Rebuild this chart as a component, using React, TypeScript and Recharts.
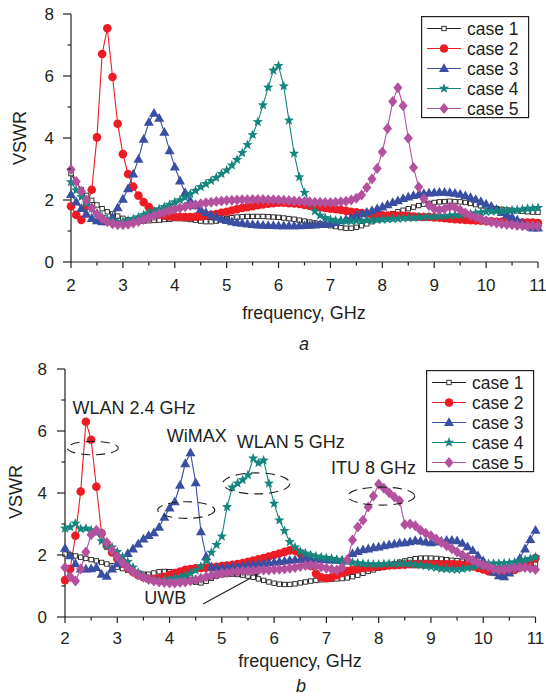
import React from "react";
import { LineChart, Line, XAxis, YAxis, ReferenceDot, ReferenceLine } from "recharts";

// frequency points (GHz), 0.1 GHz step
const FREQ = [
  2, 2.1, 2.2, 2.3, 2.4, 2.5, 2.6, 2.7, 2.8, 2.9,
  3, 3.1, 3.2, 3.3, 3.4, 3.5, 3.6, 3.7, 3.8, 3.9,
  4, 4.1, 4.2, 4.3, 4.4, 4.5, 4.6, 4.7, 4.8, 4.9,
  5, 5.1, 5.2, 5.3, 5.4, 5.5, 5.6, 5.7, 5.8, 5.9,
  6, 6.1, 6.2, 6.3, 6.4, 6.5, 6.6, 6.7, 6.8, 6.9,
  7, 7.1, 7.2, 7.3, 7.4, 7.5, 7.6, 7.7, 7.8, 7.9,
  8, 8.1, 8.2, 8.3, 8.4, 8.5, 8.6, 8.7, 8.8, 8.9,
  9, 9.1, 9.2, 9.3, 9.4, 9.5, 9.6, 9.7, 9.8, 9.9,
  10, 10.1, 10.2, 10.3, 10.4, 10.5, 10.6, 10.7, 10.8, 10.9,
  11,
];

// ---- panel a ----
const A_CASE1 = [
  2.85, 2.58, 2.33, 2.15, 1.99, 1.84, 1.72, 1.62, 1.55, 1.48,
  1.41, 1.36, 1.33, 1.32, 1.32, 1.33, 1.34, 1.35, 1.37, 1.38,
  1.4, 1.4, 1.39, 1.37, 1.35, 1.32, 1.3, 1.3, 1.32, 1.36,
  1.4, 1.43, 1.45, 1.46, 1.47, 1.47, 1.47, 1.47, 1.46, 1.45,
  1.44, 1.42, 1.4, 1.38, 1.35, 1.32, 1.29, 1.26, 1.23, 1.2,
  1.17, 1.14, 1.11, 1.09, 1.09, 1.12, 1.17, 1.23, 1.3, 1.37,
  1.43, 1.5, 1.56, 1.62, 1.67, 1.72, 1.77, 1.82, 1.86, 1.89,
  1.92, 1.94, 1.95, 1.96, 1.95, 1.94, 1.92, 1.89, 1.85, 1.81,
  1.78, 1.75, 1.72, 1.7, 1.68, 1.67, 1.65, 1.64, 1.62, 1.61,
  1.6,
];
const A_CASE2 = [
  1.8, 1.52, 1.36, 1.8, 2.33, 4.02, 6.71, 7.54, 5.97, 4.46,
  3.48, 2.84, 2.43, 2.14, 1.93, 1.77, 1.62, 1.53, 1.49, 1.47,
  1.46, 1.45, 1.45, 1.45, 1.46, 1.47, 1.49, 1.52, 1.55, 1.59,
  1.62, 1.66, 1.7, 1.74, 1.77, 1.8, 1.83, 1.86, 1.88, 1.9,
  1.91, 1.91, 1.9, 1.89, 1.87, 1.84, 1.81, 1.78, 1.76, 1.74,
  1.72, 1.7, 1.68, 1.65, 1.62, 1.6, 1.58, 1.56, 1.54, 1.52,
  1.51, 1.5, 1.5, 1.49, 1.49, 1.48, 1.47, 1.46, 1.45, 1.45,
  1.44, 1.43, 1.41, 1.4, 1.38, 1.37, 1.36, 1.35, 1.34, 1.33,
  1.32, 1.31, 1.3, 1.3, 1.29, 1.28, 1.28, 1.27, 1.27, 1.27,
  1.26,
];
const A_CASE3 = [
  2.18, 1.94, 1.73, 1.54, 1.41, 1.33, 1.3, 1.3, 1.45, 1.75,
  2.03, 2.37, 2.84, 3.32, 3.96, 4.51, 4.8, 4.64, 4.19, 3.59,
  3.07, 2.62, 2.24, 1.98, 1.82, 1.7, 1.6, 1.52, 1.45, 1.39,
  1.34, 1.3, 1.27, 1.25, 1.23, 1.21, 1.2, 1.19, 1.18, 1.18,
  1.17, 1.17, 1.17, 1.17, 1.17, 1.18, 1.19, 1.2, 1.21, 1.22,
  1.24, 1.28, 1.33, 1.38, 1.43, 1.5, 1.56, 1.61, 1.66, 1.72,
  1.78, 1.85, 1.92, 1.98, 2.05, 2.1, 2.15, 2.18, 2.21, 2.23,
  2.24, 2.25, 2.25, 2.24, 2.22, 2.19, 2.14, 2.08, 2.02, 1.95,
  1.87, 1.8, 1.7, 1.6, 1.52, 1.45, 1.36, 1.26, 1.17, 1.1,
  1.1,
];
const A_CASE4 = [
  2.58, 2.32, 2.1, 1.89, 1.72, 1.57, 1.46, 1.38, 1.32, 1.29,
  1.3, 1.34, 1.39, 1.45, 1.52, 1.58, 1.64, 1.71, 1.78, 1.85,
  1.93, 2.0, 2.08, 2.2, 2.3, 2.42, 2.52, 2.62, 2.72, 2.84,
  2.96, 3.12, 3.3, 3.52, 3.78, 4.1, 4.52, 5.06, 5.63, 6.18,
  6.33, 5.67, 4.57, 3.5, 2.74, 2.24, 1.88, 1.64, 1.5, 1.42,
  1.37, 1.34, 1.33, 1.32, 1.32, 1.33, 1.33, 1.34, 1.35, 1.36,
  1.37, 1.38, 1.39, 1.4, 1.41, 1.42, 1.43, 1.44, 1.45, 1.46,
  1.47, 1.48, 1.49, 1.5, 1.51, 1.52, 1.54, 1.56, 1.58, 1.6,
  1.62, 1.63, 1.64, 1.65, 1.66, 1.67, 1.68, 1.7, 1.72, 1.73,
  1.75,
];
const A_CASE5 = [
  2.98, 2.6, 2.28, 2.0, 1.75, 1.55, 1.4, 1.3, 1.23, 1.2,
  1.2, 1.22, 1.26, 1.31, 1.37, 1.43, 1.49, 1.55, 1.6, 1.65,
  1.7, 1.74, 1.78, 1.82, 1.85, 1.88, 1.91, 1.93, 1.95, 1.97,
  1.98, 1.99, 2.0, 2.01, 2.01, 2.02, 2.02, 2.02, 2.01, 2.01,
  2.0, 1.99, 1.98, 1.97, 1.96, 1.95, 1.94, 1.93, 1.93, 1.92,
  1.92, 1.93, 1.94, 1.96, 2.0, 2.06, 2.16, 2.4, 2.68, 3.02,
  3.55, 4.31, 5.18, 5.62, 5.04, 3.99, 3.05, 2.42, 2.04, 1.82,
  1.72, 1.68, 1.72, 1.78, 1.76, 1.68, 1.58, 1.5, 1.44, 1.38,
  1.33, 1.29, 1.26, 1.23, 1.21, 1.2, 1.18, 1.17, 1.16, 1.16,
  1.16,
];

// ---- panel b ----
const B_CASE1 = [
  2.03, 2.0, 1.97, 1.93, 1.89, 1.85, 1.81, 1.76, 1.71, 1.66,
  1.61, 1.56, 1.51, 1.46, 1.42, 1.38, 1.38, 1.42, 1.46, 1.47,
  1.46, 1.42, 1.36, 1.28, 1.2, 1.12, 1.1, 1.15, 1.25, 1.32,
  1.36, 1.38, 1.38, 1.37, 1.35, 1.32, 1.28, 1.23, 1.18, 1.13,
  1.09, 1.06, 1.05, 1.05, 1.07, 1.1, 1.13, 1.16, 1.18, 1.2,
  1.21, 1.22, 1.23, 1.24, 1.26, 1.3, 1.35, 1.41, 1.47, 1.52,
  1.57, 1.62, 1.67, 1.72, 1.77, 1.81, 1.85, 1.88, 1.9, 1.9,
  1.9, 1.89, 1.87, 1.85, 1.83, 1.82, 1.8, 1.78, 1.76, 1.72,
  1.65, 1.58, 1.55, 1.55, 1.56, 1.57, 1.58, 1.6, 1.62, 1.65,
  1.7,
];
const B_CASE2 = [
  1.19, 1.55, 2.62, 4.05, 6.3, 5.72, 4.2, 2.7, 2.3, 2.08,
  1.88, 1.72, 1.58, 1.45, 1.35, 1.28, 1.23, 1.22, 1.25, 1.3,
  1.36, 1.42, 1.47, 1.52, 1.55, 1.57, 1.58, 1.59, 1.6, 1.62,
  1.64, 1.66, 1.68, 1.71, 1.74, 1.78, 1.82, 1.86, 1.9, 1.95,
  2.0, 2.05, 2.1, 2.15, 2.14, 2.05, 1.9, 1.65, 1.4, 1.28,
  1.25, 1.28, 1.35, 1.42, 1.48, 1.52, 1.55, 1.58, 1.6, 1.62,
  1.63, 1.64, 1.66, 1.67, 1.68, 1.69, 1.7, 1.7, 1.7, 1.7,
  1.7, 1.7, 1.7, 1.7, 1.7, 1.69, 1.68, 1.66, 1.63, 1.58,
  1.53, 1.48, 1.45, 1.44, 1.45, 1.47, 1.52, 1.6, 1.7, 1.8,
  1.9,
];
const B_CASE3 = [
  2.22, 1.98, 1.72, 1.55, 1.55, 1.56, 1.6, 1.38, 1.32, 1.55,
  1.72, 1.88, 2.05, 2.2, 2.36, 2.52, 2.63, 2.72, 2.9, 3.22,
  3.52, 3.72, 4.25, 4.95, 5.3, 4.33, 2.75, 1.95, 1.62, 1.58,
  1.58, 1.6, 1.62, 1.63, 1.65, 1.67, 1.69, 1.71, 1.73, 1.75,
  1.77, 1.79, 1.81, 1.83, 1.85, 1.86, 1.87, 1.87, 1.87, 1.86,
  1.85, 1.84, 1.83, 1.83, 1.85, 2.05, 2.12, 2.17, 2.2, 2.24,
  2.26, 2.3, 2.33, 2.36, 2.39, 2.4, 2.43, 2.47, 2.45, 2.42,
  2.4, 2.42, 2.45, 2.48, 2.48, 2.46, 2.38, 2.27, 2.15, 1.98,
  1.82, 1.65, 1.45, 1.33, 1.3, 1.42, 1.58, 1.9, 2.2, 2.5,
  2.8,
];
const B_CASE4 = [
  2.86, 2.9, 3.02, 2.84, 2.86, 2.8, 2.72, 2.45, 2.28, 2.25,
  2.1, 1.94, 1.78, 1.6, 1.44, 1.32, 1.24, 1.2, 1.19, 1.2,
  1.22, 1.25, 1.29, 1.34, 1.41, 1.5, 1.63, 1.82, 2.08, 2.33,
  2.6, 3.55, 4.18, 4.31, 4.42, 4.58, 5.12, 4.97, 5.05, 4.31,
  3.66, 3.12, 2.78, 2.42, 2.25, 2.12, 2.05, 2.0, 1.96, 1.93,
  1.91, 1.88, 1.85, 1.82, 1.79, 1.76, 1.74, 1.72, 1.71, 1.7,
  1.7, 1.71, 1.72, 1.72, 1.72, 1.72, 1.71, 1.69, 1.67, 1.65,
  1.62, 1.59, 1.56, 1.55, 1.54, 1.53, 1.55, 1.58, 1.62, 1.66,
  1.7, 1.72, 1.73, 1.73, 1.74, 1.75, 1.77, 1.8, 1.84, 1.88,
  1.93,
];
const B_CASE5 = [
  1.6, 1.3, 1.16, 1.55, 2.1, 2.65, 2.8, 2.7, 2.4, 2.15,
  1.94, 1.76, 1.6, 1.46, 1.36, 1.28, 1.21, 1.16, 1.13, 1.11,
  1.1, 1.1, 1.11, 1.13, 1.16, 1.2, 1.25, 1.3, 1.34, 1.38,
  1.41, 1.43, 1.45, 1.47, 1.48, 1.49, 1.5, 1.51, 1.52, 1.52,
  1.53, 1.54, 1.55, 1.57, 1.6, 1.63, 1.66, 1.67, 1.65, 1.61,
  1.57, 1.54, 1.52, 1.6, 1.85, 2.48, 2.9, 3.12, 3.55, 3.9,
  4.28, 4.15, 4.01, 3.87, 3.75, 2.98, 3.0, 2.94, 2.8, 2.7,
  2.62, 2.52, 2.4, 2.3, 2.2, 2.1, 2.0, 1.92, 1.83, 1.75,
  1.68, 1.62, 1.55, 1.52, 1.53, 1.56, 1.58, 1.6, 1.6, 1.57,
  1.53,
];

const X_TICKS = [2, 2.5, 3, 3.5, 4, 4.5, 5, 5.5, 6, 6.5, 7, 7.5, 8, 8.5, 9, 9.5, 10, 10.5, 11];
const Y_TICKS = [0, 1, 2, 3, 4, 5, 6, 7, 8];
const CASE_NAMES = ["case 1", "case 2", "case 3", "case 4", "case 5"];
const CASE_KEYS = ["c1", "c2", "c3", "c4", "c5"];
const CASE_COLORS = ["#231f20", "#ed1c24", "#3a4ea2", "#14857f", "#b4519e"];
const CASE_MARKERS = ["square", "circle", "triangle", "star", "diamond"];

const INK = "#231f20";
const FONT = '"Liberation Sans", Arial, Helvetica, sans-serif';

const buildRows = (series: number[][]) =>
  FREQ.map((f, i) => ({
    f,
    c1: series[0][i],
    c2: series[1][i],
    c3: series[2][i],
    c4: series[3][i],
    c5: series[4][i],
  }));

const dataA = buildRows([A_CASE1, A_CASE2, A_CASE3, A_CASE4, A_CASE5]);
const dataB = buildRows([B_CASE1, B_CASE2, B_CASE3, B_CASE4, B_CASE5]);

function Marker({ kind, cx, cy, color }: { kind: string; cx: number; cy: number; color: string }) {
  if (kind === "square") {
    return <rect x={cx - 2.2} y={cy - 2.2} width={4.4} height={4.4} fill="#fff" stroke={color} strokeWidth={0.9} />;
  }
  if (kind === "circle") {
    return <circle cx={cx} cy={cy} r={4.3} fill={color} />;
  }
  if (kind === "triangle") {
    const p = `${cx},${cy - 5.2} ${cx - 5},${cy + 3.6} ${cx + 5},${cy + 3.6}`;
    return <polygon points={p} fill={color} />;
  }
  if (kind === "star") {
    const pts: string[] = [];
    for (let k = 0; k < 10; k++) {
      const r = k % 2 === 0 ? 5.4 : 2.3;
      const a = -Math.PI / 2 + (k * Math.PI) / 5;
      pts.push(`${cx + r * Math.cos(a)},${cy + r * Math.sin(a)}`);
    }
    return <polygon points={pts.join(" ")} fill={color} />;
  }
  const d = `${cx},${cy - 5.5} ${cx + 4.6},${cy} ${cx},${cy + 5.5} ${cx - 4.6},${cy}`;
  return <polygon points={d} fill={color} />;
}

const makeDot = (kind: string, color: string) => (props: any) => {
  const { cx, cy, index } = props;
  if (cx == null || cy == null) return <g key={`${kind}-${index}`} />;
  return (
    <g key={`${kind}-${index}`}>
      <Marker kind={kind} cx={cx} cy={cy} color={color} />
    </g>
  );
};

const makeXTick = (baseline: number) => (props: any) => {
  const { x, y, payload } = props;
  const v = payload.value;
  const major = Number.isInteger(v);
  return (
    <g>
      <line x1={x} x2={x} y1={y} y2={y + (major ? 6 : 3.5)} stroke={INK} strokeWidth={1.2} />
      {major && (
        <text x={x} y={y + baseline} textAnchor="middle" fontSize={17} fill={INK} fontFamily={FONT}>
          {v}
        </text>
      )}
    </g>
  );
};

const makeYTick = (gap: number) => (props: any) => {
  const { x, y, payload } = props;
  const v = payload.value;
  const major = v % 2 === 0;
  return (
    <g>
      <line x1={x} x2={x - (major ? 8 : 3.5)} y1={y} y2={y} stroke={INK} strokeWidth={1.2} />
      {major && (
        <text x={x - gap} y={y + 6} textAnchor="end" fontSize={17} fill={INK} fontFamily={FONT}>
          {v}
        </text>
      )}
    </g>
  );
};

function LegendBox({ left, top }: { left: number; top: number }) {
  return (
    <svg style={{ position: "absolute", left, top }} width={110} height={104}>
      <rect x={0.6} y={0.6} width={107} height={101} fill="#fff" stroke={INK} strokeWidth={1.2} />
      {CASE_NAMES.map((name, i) => {
        const cy = 12.5 + i * 20;
        return (
          <g key={name}>
            <line x1={6} x2={40} y1={cy} y2={cy} stroke={CASE_COLORS[i]} strokeWidth={1.2} />
            <Marker kind={CASE_MARKERS[i]} cx={23} cy={cy} color={CASE_COLORS[i]} />
            <text x={46} y={cy + 6} fontSize={17.5} fill={INK} fontFamily={FONT}>
              {name}
            </text>
          </g>
        );
      })}
    </svg>
  );
}

const Txt = ({ x, y, children, rotate, italic }: any) => (
  <div
    style={{
      position: "absolute",
      left: x,
      top: y,
      transform: `translate(-50%, -50%)${rotate ? " rotate(-90deg)" : ""}`,
      whiteSpace: "nowrap",
      lineHeight: 1,
      fontSize: 18,
      fontStyle: italic ? "italic" : "normal",
      color: INK,
      fontFamily: FONT,
    }}
  >
    {children}
  </div>
);

// dashed ellipses and labels of panel b, in data units
const BANDS = [
  { label: "WLAN 2.4 GHz", lx: 3.32, ly: 6.74, ex: 2.53, ey: 5.45, rx: 25.5, ry: 6.7 },
  { label: "WiMAX", lx: 4.52, ly: 5.84, ex: 4.32, ey: 3.45, rx: 28.5, ry: 8.3 },
  { label: "WLAN 5 GHz", lx: 6.32, ly: 5.65, ex: 5.66, ey: 4.31, rx: 33.5, ry: 10.5 },
  { label: "ITU 8 GHz", lx: 7.9, ly: 4.81, ex: 8.05, ey: 3.9, rx: 33.5, ry: 9 },
];

function Panel({ data, left, right, baseline, gap, annotate }: any) {
  return (
    <LineChart width={546} height={300} data={data} margin={{ top: 14, right, left, bottom: 0 }}>
      <XAxis
        dataKey="f"
        type="number"
        domain={[2, 11]}
        ticks={X_TICKS}
        interval={0}
        height={38}
        tickSize={0}
        tickMargin={0}
        tickLine={false}
        axisLine={{ stroke: INK, strokeWidth: 1.2 }}
        tick={makeXTick(baseline)}
      />
      <YAxis
        type="number"
        domain={[0, 8]}
        ticks={Y_TICKS}
        interval={0}
        width={50}
        tickSize={0}
        tickMargin={0}
        tickLine={false}
        axisLine={{ stroke: INK, strokeWidth: 1.2 }}
        tick={makeYTick(gap)}
      />
      {CASE_KEYS.map((k, i) => (
        <Line
          key={k}
          type="linear"
          dataKey={k}
          name={CASE_NAMES[i]}
          stroke={CASE_COLORS[i]}
          strokeWidth={1.1}
          dot={makeDot(CASE_MARKERS[i], CASE_COLORS[i])}
          activeDot={false}
          isAnimationActive={false}
        />
      ))}
      {annotate &&
        BANDS.map((b) => (
          <ReferenceDot
            key={`e-${b.label}`}
            x={b.ex}
            y={b.ey}
            r={0}
            shape={(p: any) => (
              <ellipse cx={p.cx} cy={p.cy} rx={b.rx} ry={b.ry} fill="none" stroke={INK} strokeWidth={1.1} strokeDasharray="9 6" />
            )}
          />
        ))}
      {annotate &&
        BANDS.map((b) => (
          <ReferenceDot
            key={`t-${b.label}`}
            x={b.lx}
            y={b.ly}
            r={0}
            shape={(p: any) => (
              <text x={p.cx} y={p.cy + 6} textAnchor="middle" fontSize={18} fill={INK} fontFamily={FONT}>
                {b.label}
              </text>
            )}
          />
        ))}
      {annotate && (
        <ReferenceDot
          x={3.92}
          y={0.61}
          r={0}
          shape={(p: any) => (
            <text x={p.cx} y={p.cy + 6} textAnchor="middle" fontSize={18} fill={INK} fontFamily={FONT}>
              UWB
            </text>
          )}
        />
      )}
      {annotate && (
        <ReferenceLine
          segment={[
            { x: 4.64, y: 0.42 },
            { x: 5.74, y: 1.43 },
          ]}
          shape={(p: any) => {
            const { x1, y1, x2, y2 } = p;
            const ang = Math.atan2(y2 - y1, x2 - x1);
            const L = 9;
            const W = 3;
            const bx = x2 - L * Math.cos(ang);
            const by = y2 - L * Math.sin(ang);
            const nx = -Math.sin(ang) * W;
            const ny = Math.cos(ang) * W;
            return (
              <g>
                <line x1={x1} y1={y1} x2={bx} y2={by} stroke={INK} strokeWidth={1.2} />
                <polygon points={`${x2},${y2} ${bx + nx},${by + ny} ${bx - nx},${by - ny}`} fill={INK} />
              </g>
            );
          }}
        />
      )}
    </LineChart>
  );
}

export default function App() {
  return (
    <div style={{ position: "absolute", left: 0, top: 0, width: 546, height: 698, background: "#fff", fontFamily: FONT }}>
      <div style={{ position: "absolute", left: 0, top: 0 }}>
        <Panel data={dataA} left={21} right={8} baseline={29} gap={17} annotate={false} />
      </div>
      <LegendBox left={421} top={16} />
      <Txt x={20} y={138} rotate>VSWR</Txt>
      <Txt x={304} y={313}>frequency, GHz</Txt>
      <Txt x={304} y={344} italic>a</Txt>

      <div style={{ position: "absolute", left: 0, top: 355 }}>
        <Panel data={dataB} left={15} right={10.5} baseline={27} gap={18} annotate />
      </div>
      <LegendBox left={426} top={370} />
      <Txt x={16} y={492} rotate>VSWR</Txt>
      <Txt x={300} y={661}>frequency, GHz</Txt>
      <Txt x={301} y={686} italic>b</Txt>
    </div>
  );
}
